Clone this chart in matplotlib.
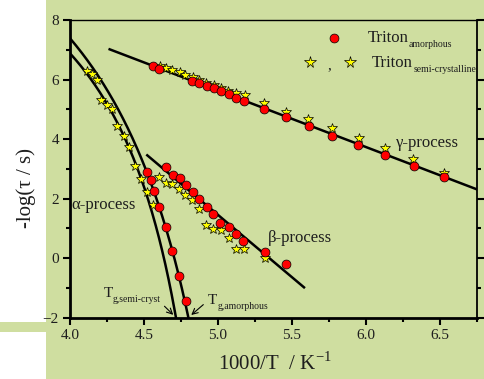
import matplotlib
matplotlib.use('Agg')
import matplotlib.pyplot as plt
from matplotlib.patches import Rectangle
from matplotlib.ticker import MultipleLocator, FormatStrFormatter
from matplotlib.transforms import offset_copy
import numpy as np

plt.rcParams['font.family'] = ['Liberation Serif', 'DejaVu Serif']
plt.rcParams['mathtext.fontset'] = 'custom'
plt.rcParams['mathtext.rm'] = 'Liberation Serif'

GREEN = '#cfdea0'
INK = '#1e1e1e'

# gamma process
gam_am_x = [4.559, 4.603, 4.826, 4.874, 4.924, 4.973, 5.022, 5.072, 5.124, 5.178,
            5.314, 5.459, 5.613, 5.772, 5.946, 6.128, 6.321, 6.527]
gam_am_y = [6.46, 6.36, 5.96, 5.88, 5.79, 5.71, 5.62, 5.53, 5.39, 5.29,
            5.02, 4.74, 4.43, 4.11, 3.79, 3.47, 3.10, 2.74]
gam_sc_x = [4.61, 4.65, 4.69, 4.74, 4.78, 4.83, 4.87, 4.92, 4.97, 5.02, 5.07,
            5.12, 5.18, 5.31, 5.46, 5.61, 5.77, 5.95, 6.13, 6.32, 6.53]
gam_sc_y = [6.47, 6.40, 6.32, 6.24, 6.16, 6.07, 5.99, 5.90, 5.82, 5.72, 5.63,
            5.55, 5.48, 5.20, 4.91, 4.67, 4.38, 4.05, 3.71, 3.32, 2.85]
gam_line_x = [4.268, 6.75]
gam_line_y = [7.015, 2.31]

# beta process
bet_am_x = [4.647, 4.694, 4.741, 4.784, 4.829, 4.874, 4.924, 4.968, 5.015, 5.072,
            5.122, 5.171, 5.318, 5.459]
bet_am_y = [3.07, 2.80, 2.70, 2.46, 2.23, 1.98, 1.72, 1.47, 1.19, 1.04,
            0.80, 0.59, 0.22, -0.20]
bet_sc_x = [4.603, 4.647, 4.689, 4.734, 4.779, 4.826, 4.872, 4.917, 4.968, 5.02,
            5.074, 5.12, 5.176, 5.318]
bet_sc_y = [2.74, 2.54, 2.48, 2.31, 2.13, 1.95, 1.65, 1.12, 0.97, 0.95,
            0.69, 0.30, 0.30, 0.01]
bet_line_x = [4.522, 5.581]
bet_line_y = [3.455, -0.98]

# alpha process
alp_am_x = [4.52, 4.545, 4.565, 4.603, 4.648, 4.69, 4.737, 4.784]
alp_am_y = [2.90, 2.62, 2.26, 1.72, 1.04, 0.25, -0.61, -1.45]
alp_sc_x = [4.115, 4.148, 4.18, 4.21, 4.25, 4.286, 4.318, 4.362, 4.397, 4.44,
            4.48, 4.518, 4.558]
alp_sc_y = [6.28, 6.19, 5.97, 5.31, 5.13, 5.00, 4.44, 4.12, 3.72, 3.09,
            2.67, 2.23, 1.78]
# three points read on each VFT curve (1000/T, -log tau)
vft_am_pts = [(4.0, 7.385), (4.603, 1.72), (4.80, -2.0)]
vft_sc_pts = [(4.0, 6.88), (4.362, 4.12), (4.716, -2.0)]


def vft_curve(pts):
    # -log(tau) = A - B/(T - T0) through three points
    (x1, y1), (x2, y2), (x3, y3) = pts
    T1, T2, T3 = 1000 / x1, 1000 / x2, 1000 / x3
    r = (y1 - y2) / (y2 - y3) * (T2 - T3) / (T1 - T2)
    T0 = (T3 - r * T1) / (1 - r)
    B = (y1 - y2) / (1 / (T2 - T0) - 1 / (T1 - T0))
    A = y1 + B / (T1 - T0)
    x = np.linspace(x1, x3, 200)
    return x, A - B / (1000 / x - T0)


def sub_label(ax, x, y, main, sub, size, subsize, transform=None, drop=3.5):
    # main text followed by a small subscript, placed after measuring the main text
    if transform is None:
        transform = ax.transData
    t = ax.text(x, y, main, fontsize=size, ha='left', va='baseline',
                transform=transform, color=INK)
    fig.canvas.draw()
    w = t.get_window_extent().width * 72 / fig.dpi
    tr = offset_copy(transform, fig=fig, x=w + 0.3, y=-drop, units='points')
    ax.text(x, y, sub, fontsize=subsize, ha='left', va='baseline', transform=tr, color=INK)


fig = plt.figure(figsize=(4.84, 3.79), dpi=100)
fig.patch.set_facecolor('white')
fig.patches.append(Rectangle((46 / 484, 0), 1, 1, transform=fig.transFigure,
                             facecolor=GREEN, edgecolor='none', zorder=-10))
fig.patches.append(Rectangle((0, 47 / 379), 46 / 484, 10 / 379, transform=fig.transFigure,
                             facecolor=GREEN, edgecolor='none', zorder=-10))

ax = fig.add_axes([70 / 484, 61.3 / 379, 407 / 484, 297.7 / 379])
ax.set_facecolor(GREEN)

lw = 1.8
ax.plot(gam_line_x, gam_line_y, color='black', lw=lw, zorder=2)
ax.plot(bet_line_x, bet_line_y, color='black', lw=lw, zorder=2)
for pts in (vft_am_pts, vft_sc_pts):
    cx, cy = vft_curve(pts)
    ax.plot(cx, cy, color='black', lw=lw, zorder=2)

star_kw = dict(ls='none', marker='*', ms=7.3, mfc='#ffff00', mec='black', mew=0.5, zorder=3)
circ_kw = dict(ls='none', marker='o', ms=6.4, mfc='#ff0000', mec='black', mew=0.5, zorder=4)
ax.plot(gam_sc_x, gam_sc_y, **star_kw)
ax.plot(bet_sc_x, bet_sc_y, **star_kw)
ax.plot(alp_sc_x, alp_sc_y, **star_kw)
ax.plot(gam_am_x, gam_am_y, **circ_kw)
ax.plot(bet_am_x, bet_am_y, **circ_kw)
ax.plot(alp_am_x, alp_am_y, **circ_kw)

ax.set_xlim(4.0, 6.75)
ax.set_ylim(-2, 8)
ax.xaxis.set_major_locator(MultipleLocator(0.5))
ax.xaxis.set_minor_locator(MultipleLocator(0.25))
ax.yaxis.set_major_locator(MultipleLocator(2))
ax.yaxis.set_minor_locator(MultipleLocator(1))
ax.xaxis.set_major_formatter(FormatStrFormatter('%.1f'))
ax.tick_params(which='major', direction='out', length=5, width=1.5, labelsize=11,
               colors='black', labelcolor=INK, pad=3)
ax.tick_params(which='minor', direction='out', length=3, width=1.5)
ax.tick_params(right=True, which='both')
ax.spines['left'].set_linewidth(2)
ax.spines['bottom'].set_linewidth(2)
ax.spines['right'].set_linewidth(1.3)
ax.spines['top'].set_linewidth(1)

ax.text(4.01, 1.79, 'α-process', fontsize=12, va='center', ha='left', color=INK)
ax.text(5.34, 0.68, 'β-process', fontsize=12, va='center', ha='left', color=INK)
ax.text(6.2, 3.87, 'γ-process', fontsize=12, va='center', ha='left', color=INK)

ax.annotate('', xy=(4.711, -1.97), xytext=(4.625, -1.55),
            arrowprops=dict(arrowstyle='->', lw=0.8, color='black'))
ax.annotate('', xy=(4.805, -1.97), xytext=(4.915, -1.5),
            arrowprops=dict(arrowstyle='->', lw=0.8, color='black'))
sub_label(ax, 4.225, -1.3, 'T', 'g,semi-cryst', 11, 7)
sub_label(ax, 4.93, -1.53, 'T', 'g,amorphous', 11, 7)

# legend drawn by hand
ax.plot([0.648], [0.94], transform=ax.transAxes, clip_on=False, **circ_kw)
ax.plot([0.589, 0.687], [0.858, 0.858], transform=ax.transAxes, clip_on=False,
        **dict(star_kw, ms=8.5))
ax.text(0.638, 0.845, ',', transform=ax.transAxes, fontsize=11, ha='center', va='center',
        color=INK)
sub_label(ax, 0.731, 0.925, 'Triton', 'amorphous', 12, 7, transform=ax.transAxes)
sub_label(ax, 0.742, 0.843, 'Triton', 'semi-crystalline', 12, 7, transform=ax.transAxes)

fig.text(275 / 484, 1 - 364 / 379, r'1000/T  / K$^{-1}$', fontsize=15, ha='center',
         va='center', color=INK)
fig.text(26 / 484, 1 - 188 / 379, '-log(τ / s)', fontsize=15, ha='center',
         va='center', rotation=90, color=INK)

fig.savefig('out.png', dpi=100, facecolor=fig.get_facecolor())
